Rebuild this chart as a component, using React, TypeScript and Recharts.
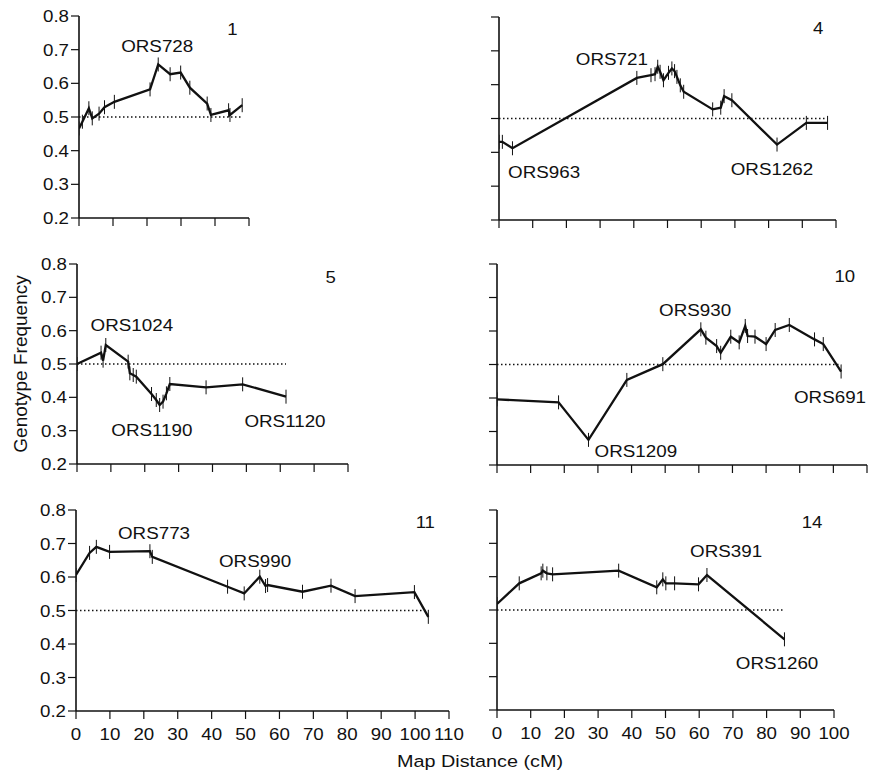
import React from 'react';
import { LineChart, Line, XAxis, YAxis, ReferenceLine, ReferenceDot } from 'recharts';

const FONT = '"Liberation Sans", Arial, Helvetica, sans-serif';
const INK = '#111';

// map position (cM) and genotype frequency for each chromosome
const pos1 = [0, 1, 2.9, 3.9, 5.9, 7.5, 10.4, 20.9, 23.3, 26.8, 29.9, 32.6, 37.7, 38.8, 44, 44.4, 48];
const freq1 = [0.466, 0.486, 0.526, 0.496, 0.51, 0.529, 0.545, 0.582, 0.656, 0.627, 0.632, 0.587, 0.54, 0.506, 0.52, 0.506, 0.535];

const pos4 = [0, 1, 4, 40.9, 45.1, 46.3, 47.1, 47.8, 48.8, 50.3, 51.3, 52.1, 52.8, 53.8, 54.8, 63.4, 65.8, 66.8, 69.1, 82.5, 91.2, 97.5];
const freq4 = [0.431, 0.431, 0.412, 0.62, 0.628, 0.631, 0.653, 0.638, 0.613, 0.635, 0.648, 0.64, 0.623, 0.598, 0.579, 0.527, 0.532, 0.566, 0.554, 0.423, 0.487, 0.487];

const pos5 = [0, 7.1, 7.7, 8.5, 15.1, 15.6, 16.6, 17.5, 22, 23.4, 24.4, 25.4, 26.4, 27.4, 38.1, 48.9, 61.7];
const freq5 = [0.5, 0.534, 0.51, 0.557, 0.507, 0.472, 0.467, 0.462, 0.41, 0.392, 0.377, 0.387, 0.412, 0.44, 0.43, 0.439, 0.402];

const pos10 = [0, 18.3, 27.2, 38.6, 49.3, 60.6, 62.1, 65.3, 66.5, 69.5, 72, 73.8, 74.5, 76.7, 80, 82.7, 86.9, 94.4, 97, 102.3];
const freq10 = [0.396, 0.387, 0.275, 0.454, 0.501, 0.605, 0.58, 0.555, 0.535, 0.583, 0.566, 0.615, 0.585, 0.583, 0.561, 0.603, 0.618, 0.575, 0.561, 0.479];

const pos11 = [0, 4, 6, 9.9, 21.8, 22.5, 44.7, 49.6, 54.2, 55.9, 56.5, 66.8, 75.2, 82.3, 99.8, 103.9];
const freq11 = [0.606, 0.672, 0.69, 0.675, 0.677, 0.66, 0.571, 0.551, 0.601, 0.573, 0.576, 0.556, 0.574, 0.543, 0.555, 0.481];

const pos14 = [0, 6.6, 13.1, 13.6, 14.8, 16.5, 36.1, 47.4, 49.2, 50.1, 52.7, 59.8, 62.3, 85.3];
const freq14 = [0.518, 0.58, 0.61, 0.618, 0.61, 0.607, 0.618, 0.568, 0.592, 0.58, 0.58, 0.577, 0.605, 0.412];

// marker names, anchored in data coordinates (text centre, baseline)
const names1 = ['ORS728'];
const namePos1 = [23];
const nameFreq1 = [0.693];
const names4 = ['ORS721', 'ORS963', 'ORS1262'];
const namePos4 = [33.5, 13.4, 81];
const nameFreq4 = [0.658, 0.324, 0.333];
const names5 = ['ORS1024', 'ORS1190', 'ORS1120'];
const namePos5 = [16.2, 22.1, 61.4];
const nameFreq5 = [0.599, 0.284, 0.311];
const names10 = ['ORS930', 'ORS1209', 'ORS691'];
const namePos10 = [58.9, 41.3, 99];
const nameFreq10 = [0.645, 0.224, 0.385];
const names11 = ['ORS773', 'ORS990'];
const namePos11 = [23, 52.8];
const nameFreq11 = [0.713, 0.63];
const names14 = ['ORS391', 'ORS1260'];
const namePos14 = [68, 83.1];
const nameFreq14 = [0.659, 0.323];

const chromIds = ['1', '4', '5', '10', '11', '14'];
const chromIdPos = [45.1, 94.7, 74.9, 103.4, 103, 93.5];
const chromIdFreq = [0.744, 0.75, 0.743, 0.746, 0.746, 0.746];

const yTicks = [0.2, 0.3, 0.4, 0.5, 0.6, 0.7, 0.8];

const YW = 60;
const MT = 12;
const MR = 26;
const XH = 40;

const WideText = ({ x, y, text, size = 16, sx = 1.17, anchor = 'middle' }: any) => (
  <text
    transform={`translate(${x} ${y}) scale(${sx} 1)`}
    textAnchor={anchor}
    fontSize={size}
    fontFamily={FONT}
    fill={INK}
  >
    {text}
  </text>
);

const XTick = ({ x, y, payload, show }: any) =>
  show ? <WideText x={x} y={y + 19} text={String(payload.value)} /> : <g />;

const YTick = ({ x, y, payload, show }: any) =>
  show ? <WideText x={x} y={y + 6} anchor="end" text={Number(payload.value).toFixed(1)} /> : <g />;

const markerTick = (p: any) => (
  <line key={`m${p.index}`} x1={p.cx} x2={p.cx} y1={p.cy - 7} y2={p.cy + 7} stroke={INK} strokeWidth={1} />
);

const panels = [
  { id: 0, pos: pos1, freq: freq1, names: names1, nx: namePos1, ny: nameFreq1, axisX: 79, topY: 16, plotW: 170, plotH: 202, xMax: 50, yLab: true, xLab: false },
  { id: 1, pos: pos4, freq: freq4, names: names4, nx: namePos4, ny: nameFreq4, axisX: 499, topY: 17, plotW: 337, plotH: 203, xMax: 100, yLab: false, xLab: false },
  { id: 2, pos: pos5, freq: freq5, names: names5, nx: namePos5, ny: nameFreq5, axisX: 77, topY: 264, plotW: 271, plotH: 200, xMax: 80, yLab: true, xLab: false },
  { id: 3, pos: pos10, freq: freq10, names: names10, nx: namePos10, ny: nameFreq10, axisX: 497, topY: 264, plotW: 370, plotH: 201, xMax: 110, yLab: false, xLab: false },
  { id: 4, pos: pos11, freq: freq11, names: names11, nx: namePos11, ny: nameFreq11, axisX: 76, topY: 510, plotW: 373, plotH: 201, xMax: 110, yLab: true, xLab: true },
  { id: 5, pos: pos14, freq: freq14, names: names14, nx: namePos14, ny: nameFreq14, axisX: 497, topY: 510, plotW: 337, plotH: 200, xMax: 100, yLab: false, xLab: true },
];

const Panel = ({ cfg }: any) => {
  const data = cfg.pos.map((x: number, i: number) => ({ x, y: cfg.freq[i] }));
  const xTicks = Array.from({ length: cfg.xMax / 10 + 1 }, (_, i) => i * 10);
  const lastPos = cfg.pos[cfg.pos.length - 1];
  return (
    <div style={{ position: 'absolute', left: cfg.axisX - YW, top: cfg.topY - MT }}>
      <LineChart
        width={YW + cfg.plotW + MR}
        height={MT + cfg.plotH + XH}
        data={data}
        margin={{ top: MT, right: MR, left: 0, bottom: 0 }}
      >
        <XAxis
          type="number"
          dataKey="x"
          domain={[0, cfg.xMax]}
          ticks={xTicks}
          interval={0}
          allowDataOverflow
          height={XH}
          tickSize={8}
          axisLine={{ stroke: INK, strokeWidth: 1.6 }}
          tickLine={{ stroke: INK, strokeWidth: 1.2 }}
          tick={<XTick show={cfg.xLab} />}
        />
        <YAxis
          type="number"
          domain={[0.2, 0.8]}
          ticks={yTicks}
          interval={0}
          allowDataOverflow
          width={YW}
          tickSize={8}
          axisLine={{ stroke: INK, strokeWidth: 1.6 }}
          tickLine={{ stroke: INK, strokeWidth: 1.2 }}
          tick={<YTick show={cfg.yLab} />}
        />
        <ReferenceLine
          segment={[{ x: 0, y: 0.5 }, { x: lastPos, y: 0.5 }]}
          stroke={INK}
          strokeWidth={1.5}
          strokeDasharray="1.5 2.5"
        />
        <Line
          type="linear"
          dataKey="y"
          stroke={INK}
          strokeWidth={2.3}
          dot={markerTick}
          activeDot={false}
          isAnimationActive={false}
        />
        {cfg.names.map((n: string, i: number) => (
          <ReferenceDot
            key={n}
            x={cfg.nx[i]}
            y={cfg.ny[i]}
            r={0}
            shape={(p: any) => <WideText x={p.cx} y={p.cy} text={n} size={16.5} sx={1.14} />}
          />
        ))}
        <ReferenceDot
          x={chromIdPos[cfg.id]}
          y={chromIdFreq[cfg.id]}
          r={0}
          shape={(p: any) => <WideText x={p.cx} y={p.cy} text={chromIds[cfg.id]} size={16} sx={1.16} />}
        />
      </LineChart>
    </div>
  );
};

export default function App() {
  return (
    <div style={{ position: 'absolute', left: 0, top: 0, width: 877, height: 774, background: '#fff' }}>
      {panels.map((p) => (
        <Panel key={p.id} cfg={p} />
      ))}
      <svg width={877} height={774} style={{ position: 'absolute', left: 0, top: 0, pointerEvents: 'none' }}>
        <text
          transform="translate(27 364) rotate(-90)"
          textAnchor="middle"
          fontSize={19}
          fontFamily={FONT}
          fill={INK}
        >
          Genotype Frequency
        </text>
        <WideText x={480} y={767} text="Map Distance (cM)" size={16.5} sx={1.2} />
      </svg>
    </div>
  );
}
